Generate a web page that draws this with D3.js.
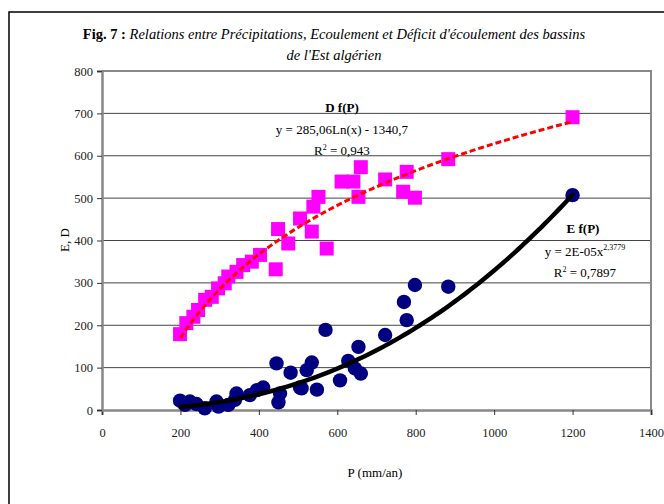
<!DOCTYPE html>
<html>
<head>
<meta charset="utf-8">
<script src="https://cdn.jsdelivr.net/npm/d3@7"></script>
<style>
  body { margin: 0; background: #fff; }
  svg { font-family: "Liberation Serif", "Times New Roman", serif; }
</style>
</head>
<body>
<svg id="chart" width="664" height="504"></svg>
<script>
// Deficit D (pink squares): [P, D]
const deficitPoints = [
  [199, 179], [215, 205], [233, 220], [245, 236], [263, 260], [280, 267],
  [296, 287], [313, 299], [322, 315], [343, 326], [360, 342], [382, 350],
  [403, 366], [443, 332], [449, 427], [475, 393], [505, 452], [535, 421],
  [539, 480], [552, 503], [573, 381], [611, 539], [641, 539], [654, 503],
  [660, 573], [722, 544], [768, 515], [777, 562], [798, 501], [883, 592],
  [1200, 691]
];

// Ecoulement E (blue circles): [P, E]
const ecoulPoints = [
  [199, 22], [212, 12], [224, 20], [241, 14], [262, 4], [292, 20], [297, 8],
  [322, 12], [339, 24], [343, 39], [377, 35], [395, 47], [411, 53],
  [450, 18], [454, 39], [445, 110], [481, 88], [505, 53], [509, 51],
  [522, 94], [535, 112], [548, 48], [570, 189], [607, 70], [628, 116],
  [645, 98], [654, 149], [660, 86], [722, 177], [770, 255], [777, 212],
  [798, 295], [883, 291], [1200, 507]
];

// Courbes de tendance (coefficients d'Excel)
const dTrend = { a: 285.06, b: -1340.7 };    // D = a Ln(P) + b
const eTrend = { a: 2.42e-5, p: 2.3779 };     // E = a P^p
const trendRange = [200, 1200];

const xTicks = [0, 200, 400, 600, 800, 1000, 1200, 1400];
const yTicks = [0, 100, 200, 300, 400, 500, 600, 700, 800];

const svg = d3.select("#chart");

// cadre extérieur
svg.append("rect")
  .attr("x", 9).attr("y", 12)
  .attr("width", 660).attr("height", 500)
  .attr("fill", "none")
  .attr("stroke", "black")
  .attr("stroke-width", 1.5);

const plot = { left: 102, right: 651, top: 71, bottom: 410 };

const x = d3.scaleLinear().domain([0, 1400]).range([plot.left, plot.right]);
const y = d3.scaleLinear().domain([0, 800]).range([plot.bottom, plot.top]);

// titre
const title = svg.append("text")
  .attr("x", 334).attr("y", 39)
  .attr("text-anchor", "middle")
  .attr("font-size", 14.5);
title.append("tspan").attr("font-weight", "bold").text("Fig. 7 : ");
title.append("tspan").attr("font-style", "italic")
  .text("Relations entre Précipitations, Ecoulement et Déficit d'écoulement des bassins");
svg.append("text")
  .attr("x", 334).attr("y", 60)
  .attr("text-anchor", "middle")
  .attr("font-size", 14.5)
  .attr("font-style", "italic")
  .text("de l'Est algérien");

// grille horizontale
svg.append("g")
  .selectAll("line")
  .data(yTicks.slice(1))
  .join("line")
  .attr("x1", plot.left).attr("x2", plot.right)
  .attr("y1", d => y(d)).attr("y2", d => y(d))
  .attr("stroke", "#444")
  .attr("stroke-width", 1);

// bord du tracé (droite et haut)
svg.append("path")
  .attr("d", `M${plot.left},${plot.top}H${plot.right}V${plot.bottom}`)
  .attr("fill", "none")
  .attr("stroke", "#888")
  .attr("stroke-width", 2);

// axes
const xAxis = svg.append("g")
  .attr("transform", `translate(0,${plot.bottom})`)
  .call(d3.axisBottom(x).tickValues(xTicks).tickSize(5).tickPadding(13).tickFormat(d3.format("d")));
const yAxis = svg.append("g")
  .attr("transform", `translate(${plot.left},0)`)
  .call(d3.axisLeft(y).tickValues(yTicks).tickSize(5).tickPadding(4).tickFormat(d3.format("d")));

[xAxis, yAxis].forEach(ax => {
  ax.select(".domain").attr("stroke", "#888").attr("stroke-width", 2.5);
  ax.selectAll(".tick line").attr("stroke", "#333");
  ax.selectAll(".tick text")
    .attr("font-family", "Liberation Serif, serif")
    .attr("font-size", 12.5)
    .attr("fill", "#222");
});

// titres des axes
svg.append("text")
  .attr("x", 375).attr("y", 477)
  .attr("text-anchor", "middle")
  .attr("font-size", 13)
  .text("P (mm/an)");
svg.append("text")
  .attr("transform", "translate(69,240) rotate(-90)")
  .attr("text-anchor", "middle")
  .attr("font-size", 13)
  .text("E, D");

// points D
svg.append("g")
  .selectAll("rect")
  .data(deficitPoints)
  .join("rect")
  .attr("x", d => x(d[0]) - 7)
  .attr("y", d => y(d[1]) - 7)
  .attr("width", 14).attr("height", 14)
  .attr("fill", "#ff00ff");

// points E
svg.append("g")
  .selectAll("circle")
  .data(ecoulPoints)
  .join("circle")
  .attr("cx", d => x(d[0]))
  .attr("cy", d => y(d[1]))
  .attr("r", 7.2)
  .attr("fill", "#000080");

// courbes de tendance
const trendX = d3.range(trendRange[0], trendRange[1] + 1, 10);
const line = d3.line().x(d => x(d[0])).y(d => y(d[1])).curve(d3.curveMonotoneX);

svg.append("path")
  .datum(trendX.map(p => [p, eTrend.a * Math.pow(p, eTrend.p)]))
  .attr("d", line)
  .attr("fill", "none")
  .attr("stroke", "black")
  .attr("stroke-width", 4.5)
  .attr("stroke-linecap", "round");

svg.append("path")
  .datum(trendX.map(p => [p, dTrend.a * Math.log(p) + dTrend.b]))
  .attr("d", line)
  .attr("fill", "none")
  .attr("stroke", "#ff0000")
  .attr("stroke-width", 3)
  .attr("stroke-dasharray", "6,3");

// équations
const eq = svg.append("g").attr("font-size", 13).attr("text-anchor", "middle");

eq.append("text").attr("x", 342).attr("y", 112)
  .attr("font-weight", "bold").text("D f(P)");
eq.append("text").attr("x", 342).attr("y", 134)
  .text("y = 285,06Ln(x) - 1340,7");
const r1 = eq.append("text").attr("x", 342).attr("y", 155);
r1.append("tspan").text("R");
r1.append("tspan").attr("font-size", 8).attr("dy", -5).text("2");
r1.append("tspan").attr("dy", 5).text(" = 0,943");

eq.append("text").attr("x", 583).attr("y", 233)
  .attr("font-weight", "bold").text("E f(P)");
const e1 = eq.append("text").attr("x", 585).attr("y", 256);
e1.append("tspan").text("y = 2E-05x");
e1.append("tspan").attr("font-size", 8).attr("dy", -6).text("2,3779");
const r2 = eq.append("text").attr("x", 585).attr("y", 277);
r2.append("tspan").text("R");
r2.append("tspan").attr("font-size", 8).attr("dy", -5).text("2");
r2.append("tspan").attr("dy", 5).text(" = 0,7897");
</script>
</body>
</html>
